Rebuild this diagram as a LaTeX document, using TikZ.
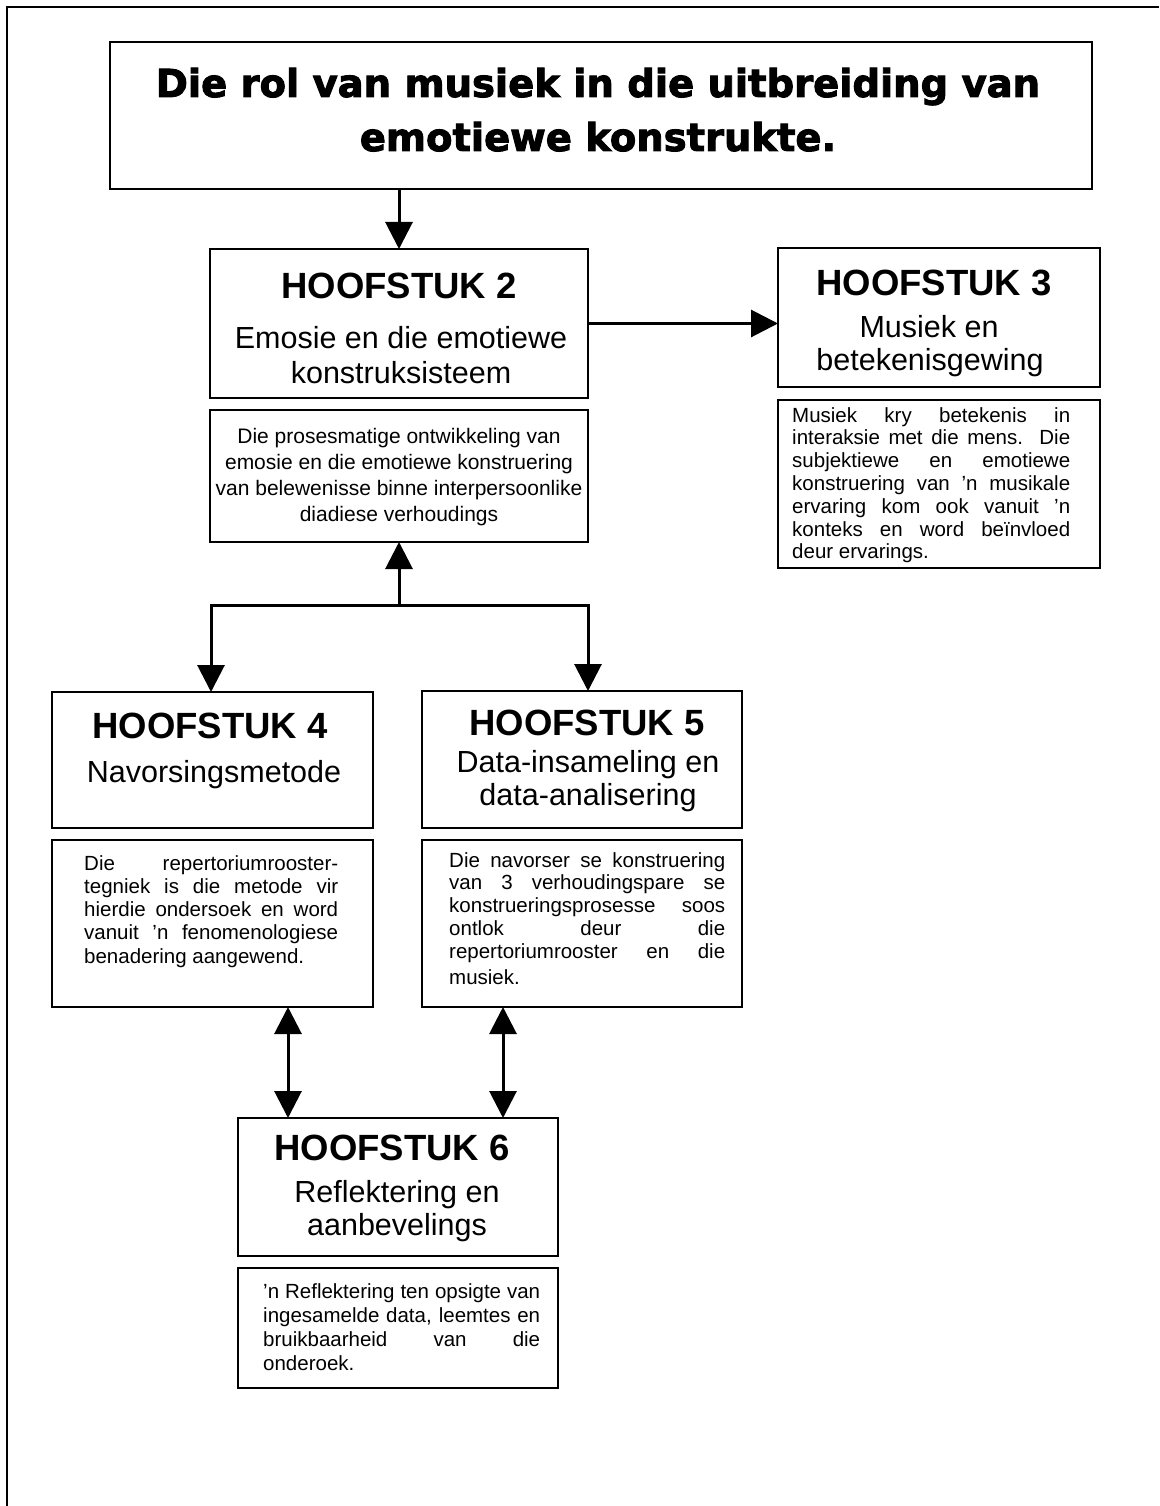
\documentclass[tikz,border=0pt]{standalone}
\usepackage{fontspec}
\setmainfont{Liberation Sans}
\newfontfamily\titlefont{DejaVu Sans Bold}[FakeBold=2.5]
\usetikzlibrary{arrows.meta}
\tikzset{
 box/.style={draw, line width=2.2pt, inner sep=0pt, outer sep=0pt},
 arr/.style={line width=3pt, -{Triangle[length=27pt,width=27pt]}},
 dbl/.style={line width=3pt, {Triangle[length=27pt,width=27pt]}-{Triangle[length=27pt,width=27pt]}},
 ttl/.style={font=\titlefont\fontsize{38.5}{47}\selectfont, anchor=base, inner sep=0pt},
 hd/.style={font=\bfseries\fontsize{36.5}{44}\selectfont, anchor=base, inner sep=0pt},
 sub/.style={font=\fontsize{30.5}{37}\selectfont, anchor=base, inner sep=0pt},
 dtc/.style={font=\fontsize{21}{26}\selectfont, anchor=base, inner sep=0pt},
 dtj/.style={font=\fontsize{20.5}{24}\selectfont, anchor=base west, inner sep=0pt},
}
\begin{document}
\begin{tikzpicture}[x=1pt,y=-1pt]
\useasboundingbox (0,0) rectangle (1159,1506);
\fill[white] (0,0) rectangle (1159,1506);
\draw[line width=2pt] (7,1506) -- (7,7) -- (1159,7);

% boxes
\node[box, minimum width=982pt, minimum height=147pt] (title) at (601,115.5) {};
\node[box, minimum width=378pt, minimum height=149pt] (h2) at (399,323.5) {};
\node[box, minimum width=378pt, minimum height=132pt] (d2) at (399,476) {};
\node[box, minimum width=322pt, minimum height=139pt] (h3) at (939,317.5) {};
\node[box, minimum width=322pt, minimum height=168pt] (d3) at (939,484) {};
\node[box, minimum width=321pt, minimum height=136pt] (h4) at (212.5,760) {};
\node[box, minimum width=321pt, minimum height=167pt] (d4) at (212.5,923.5) {};
\node[box, minimum width=320pt, minimum height=137pt] (h5) at (582,759.5) {};
\node[box, minimum width=320pt, minimum height=167pt] (d5) at (582,923.5) {};
\node[box, minimum width=320pt, minimum height=138pt] (h6) at (398,1187) {};
\node[box, minimum width=320pt, minimum height=120pt] (d6) at (398,1328) {};

% title
\node[ttl] (t1) at (598,97) {Die rol van musiek in die uitbreiding van};
\node[ttl] (t2) at (598,151) {emotiewe konstrukte.};

% headings
\node[hd] (h2t) at (399,298) {HOOFSTUK 2};
\node[sub] (h2s1) at (401,348) {Emosie en die emotiewe};
\node[sub] (h2s2) at (401,383) {konstruksisteem};

\node[hd] (h3t) at (934,295) {HOOFSTUK 3};
\node[sub] (h3s1) at (929,337) {Musiek en};
\node[sub] (h3s2) at (930,370) {betekenisgewing};

\node[hd] (h4t) at (210,738) {HOOFSTUK 4};
\node[sub] (h4s1) at (214,782) {Navorsingsmetode};

\node[hd] (h5t) at (587,735) {HOOFSTUK 5};
\node[sub] (h5s1) at (588,772) {Data-insameling en};
\node[sub] (h5s2) at (588,805) {data-analisering};

\node[hd] (h6t) at (392,1160) {HOOFSTUK 6};
\node[sub] (h6s1) at (397,1202) {Reflektering en};
\node[sub] (h6s2) at (397,1235) {aanbevelings};

% description 2 (centered)
\node[dtc] (d2l1) at (399,443) {Die prosesmatige ontwikkeling van};
\node[dtc] (d2l2) at (399,469) {emosie en die emotiewe konstruering};
\node[dtc] (d2l3) at (399,495) {van belewenisse binne interpersoonlike};
\node[dtc] (d2l4) at (399,521) {diadiese verhoudings};

% description 3
\node[dtj] (d3l1) at (792,422) {\makebox[278pt][s]{Musiek kry betekenis in}};
\node[dtj] (d3l2) at (792,444.8) {\makebox[278pt][s]{interaksie met die mens. Die}};
\node[dtj] (d3l3) at (792,467.6) {\makebox[278pt][s]{subjektiewe en emotiewe}};
\node[dtj] (d3l4) at (792,490.4) {\makebox[278pt][s]{konstruering van 'n musikale}};
\node[dtj] (d3l5) at (792,513.2) {\makebox[278pt][s]{ervaring kom ook vanuit 'n}};
\node[dtj] (d3l6) at (792,536) {\makebox[278pt][s]{konteks en word beïnvloed}};
\node[dtj] (d3l7) at (792,558.8) {deur ervarings.};

% description 4
\node[dtj] (d4l1) at (84,870) {\makebox[254pt][s]{Die repertoriumrooster-}};
\node[dtj] (d4l2) at (84,893.25) {\makebox[254pt][s]{tegniek is die metode vir}};
\node[dtj] (d4l3) at (84,916.5) {\makebox[254pt][s]{hierdie ondersoek en word}};
\node[dtj] (d4l4) at (84,939.75) {\makebox[254pt][s]{vanuit 'n fenomenologiese}};
\node[dtj] (d4l5) at (84,963) {benadering aangewend.};

% description 5
\node[dtj] (d5l1) at (449,867) {\makebox[276pt][s]{Die navorser se konstruering}};
\node[dtj] (d5l2) at (449,889.75) {\makebox[276pt][s]{van 3 verhoudingspare se}};
\node[dtj] (d5l3) at (449,912.5) {\makebox[276pt][s]{konstrueringsprosesse soos}};
\node[dtj] (d5l4) at (449,935.25) {\makebox[276pt][s]{ontlok deur die}};
\node[dtj] (d5l5) at (449,958) {\makebox[276pt][s]{repertoriumrooster en die}};
\node[dtj] (d5l6) at (449,984) {musiek.};

% description 6
\node[dtj] (d6l1) at (263,1298) {\makebox[277pt][s]{'n Reflektering ten opsigte van}};
\node[dtj] (d6l2) at (263,1322) {\makebox[277pt][s]{ingesamelde data, leemtes en}};
\node[dtj] (d6l3) at (263,1346) {\makebox[277pt][s]{bruikbaarheid van die}};
\node[dtj] (d6l4) at (263,1370) {onderoek.};

% connectors
\draw[arr] (title.south -| h2.north) -- (h2.north);
\draw[arr] (h2.east) -- (h2.east -| h3.west);
\coordinate (j) at (399,605);
\coordinate (jl) at (211,605);
\coordinate (jr) at (588,605);
\draw[arr] (j) -- (d2.south);
\draw[line width=3pt, line cap=rect] (jl) -- (jr);
\draw[arr] (jl) -- (jl |- h4.north);
\draw[arr] (jr) -- (jr |- h5.north);
\coordinate (a46) at (288,0);
\coordinate (a56) at (503,0);
\draw[dbl] (d4.south -| a46) -- (h6.north -| a46);
\draw[dbl] (d5.south -| a56) -- (h6.north -| a56);
\end{tikzpicture}
\end{document}
